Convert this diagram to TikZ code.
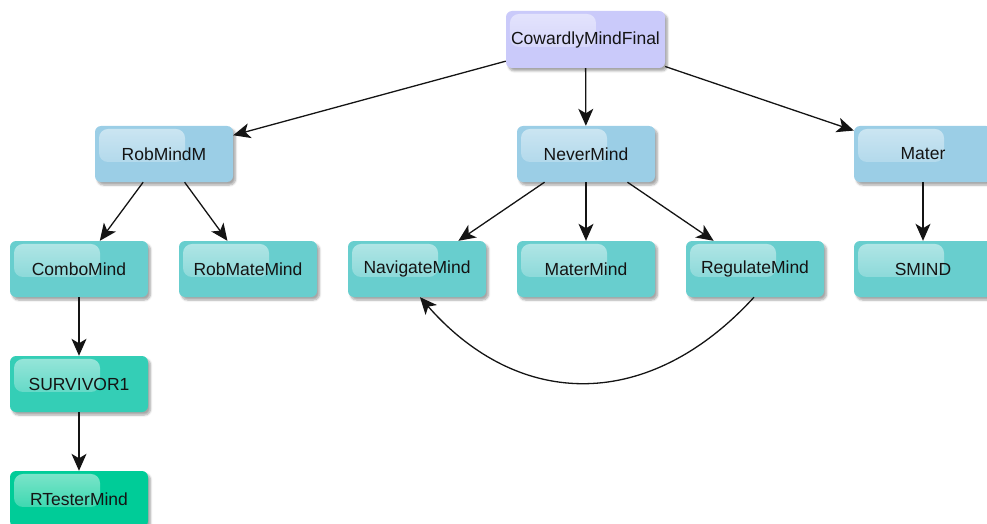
\documentclass[tikz,border=0pt]{standalone}
\usepackage{fontspec}
\setmainfont{Liberation Sans}
\usetikzlibrary{arrows.meta,shadows.blur,fadings}

\definecolor{lavender}{RGB}{202,202,250}
\definecolor{skyblue}{RGB}{155,206,230}
\definecolor{teal1}{RGB}{104,206,206}
\definecolor{teal2}{RGB}{52,206,182}
\definecolor{teal3}{RGB}{0,204,152}

% glossy highlight: strong at the top, fading out downwards
\tikzfading[name=glossfade, top color=transparent!50, bottom color=transparent!90]

\tikzset{
  x=1pt, y=-1pt,
  mindbox/.style={
    rectangle, rounded corners=6pt, minimum width=138pt, minimum height=56pt,
    inner sep=0pt, font=\fontsize{17.5}{19}\selectfont, text=black!92,
    blur shadow={shadow xshift=2.5pt, shadow yshift=-3pt, shadow blur steps=6, shadow opacity=35},
    path picture={
      \fill[white, path fading=glossfade, rounded corners=9pt]
        ([xshift=4pt,yshift=-3pt]path picture bounding box.north west)
        rectangle ++(86pt,-33pt);
    }
  },
  link/.style={draw=black!92, line width=1.3pt,
    -{Stealth[length=17pt,width=15pt,inset=4.5pt]}}
}

\begin{document}
\begin{tikzpicture}
  \path[use as bounding box, clip] (0,0) rectangle (987,524);

  % hierarchy of minds
  \node[mindbox, fill=lavender, minimum width=159pt, minimum height=57pt] (cmf) at (585.5,39.5) {CowardlyMindFinal};

  \node[mindbox, fill=skyblue] (rob)   at (164,154) {RobMindM};
  \node[mindbox, fill=skyblue] (never) at (586,154) {NeverMind};
  \node[mindbox, fill=skyblue] (mater) at (923,154) {Mater};

  \node[mindbox, fill=teal1] (combo)    at (79,269)  {ComboMind};
  \node[mindbox, fill=teal1] (robmate)  at (248,269) {RobMateMind};
  \node[mindbox, fill=teal1] (nav)      at (417,269) {NavigateMind};
  \node[mindbox, fill=teal1] (matermind)at (586,269) {MaterMind};
  \node[mindbox, fill=teal1] (reg)      at (755,269) {RegulateMind};
  \node[mindbox, fill=teal1] (smind)    at (923,269) {SMIND};

  \node[mindbox, fill=teal2] (surv)   at (79,384) {SURVIVOR1};
  \node[mindbox, fill=teal3] (rtest)  at (79,499) {RTesterMind};

  % connectors
  \draw[link] (cmf) -- (rob);
  \draw[link] (cmf) -- (never);
  \draw[link] (cmf) -- (mater);

  \draw[link] (rob) -- (combo);
  \draw[link] (rob) -- (robmate);

  \draw[link] (never) -- (nav);
  \draw[link] (never) -- (matermind);
  \draw[link] (never) -- (reg);

  \draw[link] (mater) -- (smind);
  \draw[link] (combo) -- (surv);
  \draw[link] (surv) -- (rtest);

  \draw[link] ([xshift=-1pt]reg.south) .. controls (650,411) and (520,411) .. ([xshift=3pt]nav.south);
\end{tikzpicture}
\end{document}
